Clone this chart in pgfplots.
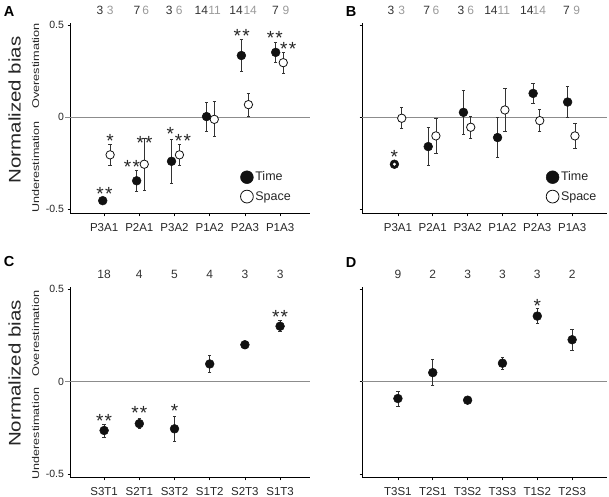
\documentclass[border=0pt]{standalone}
\usepackage{fontspec}
\setmainfont{Liberation Sans}
\usepackage{graphicx}
\usepackage{pgfplots}
\usepackage{pgfplotstable}
\pgfplotsset{compat=1.18}

% Panel A
\pgfplotstableread{
x y e
-0.04 -0.453 0.012
0.924 -0.345 0.058
1.915 -0.239 0.12
2.91 0.004 0.078
3.90 0.336 0.085
4.875 0.353 0.053
}\Atime
\pgfplotstableread{
x y e
0.17 -0.204 0.057
1.14 -0.255 0.14
2.14 -0.204 0.057
3.13 -0.011 0.095
4.10 0.069 0.062
5.09 0.297 0.058
}\Aspace
% Panel B
\pgfplotstableread{
x y e
-0.10 -0.255 0.0
0.87 -0.159 0.104
1.88 0.027 0.12
2.86 -0.110 0.107
3.88 0.130 0.055
4.87 0.083 0.083
}\Btime
\pgfplotstableread{
x y e
0.11 -0.005 0.057
1.09 -0.101 0.095
2.09 -0.054 0.058
3.07 0.040 0.118
4.07 -0.018 0.060
5.08 -0.101 0.068
}\Bspace
% Panel C
\pgfplotstableread{
x y e
0 -0.264 0.035
1 -0.227 0.027
2 -0.255 0.067
3 0.096 0.047
4 0.200 0.018
5 0.300 0.030
}\Cdata
% Panel D
\pgfplotstableread{
x y e
0 -0.091 0.040
1 0.049 0.071
2 -0.100 0.0
3 0.100 0.034
4 0.355 0.041
5 0.227 0.056
}\Ddata

\definecolor{dotc}{HTML}{111111}
\definecolor{cntdark}{HTML}{333333}
\definecolor{cntgray}{HTML}{9A9A9A}
\definecolor{zline}{HTML}{8C8C8C}

\pgfplotsset{
  basepanel/.style={
    scale only axis, clip=false,
    axis x line*=bottom, axis y line*=left,
    axis line style={line width=0.8bp, black},
    xtick={0,...,5}, ytick={-0.5,0,0.5},
    tick align=outside, major tick length=2.5bp,
    tick style={line width=0.6bp, black},
    xticklabel style={font=\fontsize{11.5bp}{12bp}\selectfont, text=black!85, yshift=-4bp},
    yticklabel style={font=\fontsize{10.5bp}{11bp}\selectfont, text=black!85},
    legend style={draw=none, fill=none, inner sep=0pt, row sep=5bp,
      font=\fontsize{12.5bp}{13bp}\selectfont, text=black!85},
    legend cell align=left,
    legend image code/.code={\draw[##1] plot coordinates {(0bp,0bp)};},
    legend image post style={mark size=6.4bp},
  },
  leftcol/.style={basepanel, width=240bp, xmin=-0.97, xmax=5.85, yticklabels={-0.5,0,0.5}},
  rightcol/.style={basepanel, width=245bp, xmin=-1.03, xmax=6.0, yticklabels={}},
  toprow/.style={height=190.4bp, ymin=-0.525, ymax=0.51},
  botrow/.style={height=191.3bp, ymin=-0.52, ymax=0.515},
  timeplot/.style={only marks, mark=*, mark size=4.4bp,
    mark options={fill=dotc, draw=dotc, line width=0.5bp},
    error bars/.cd, y dir=both, y explicit,
    error bar style={line width=0.75bp, black!80},
    error mark options={rotate=90, mark size=1.7bp, line width=0.75bp, black!80}},
  spaceplot/.style={only marks, mark=*, mark size=4.2bp,
    mark options={fill=white, draw=dotc, line width=0.8bp},
    error bars/.cd, y dir=both, y explicit,
    error bar style={line width=0.75bp, black!80},
    error mark options={rotate=90, mark size=1.7bp, line width=0.75bp, black!80}},
}

\newcommand{\st}[3]{\node[font=\fontsize{19bp}{19bp}\selectfont, anchor=base, inner sep=0pt, yshift=-10.9bp, text=black!85] at (axis cs:#1,#2) {#3};}
\newcommand{\ds}{*\kern1.2bp*}
\newcommand{\cnt}[4]{\node[font=\fontsize{12bp}{12bp}\selectfont, inner sep=0pt, text=#4] at (axis cs:#1,#2) {#3};}

\begin{document}
\begin{tikzpicture}
\useasboundingbox (0bp,0bp) rectangle (609bp,497bp);

% ---------- A ----------
\begin{axis}[leftcol, toprow, at={(70bp,283.1bp)}, anchor=south west,
  xticklabels={P3A1,P2A1,P3A2,P1A2,P2A3,P1A3},
  legend style={at={(axis cs:3.87,-0.285)}, anchor=north west}]
\addplot[zline, line width=1.2bp, forget plot] coordinates {(-1.1,0) (5.85,0)};
\addplot+[timeplot] table[x=x, y=y, y error=e] {\Atime};
\addlegendentry{Time}
\addplot+[spaceplot] table[x=x, y=y, y error=e] {\Aspace};
\addlegendentry{Space}
\st{0.01}{-0.394}{\ds}
\st{0.17}{-0.104}{*}
\st{0.79}{-0.246}{\ds}
\st{1.15}{-0.113}{\ds}
\st{1.88}{-0.068}{*}
\st{2.24}{-0.104}{\ds}
\st{3.91}{0.466}{\ds}
\st{4.85}{0.455}{\ds}
\st{5.23}{0.398}{\ds}
\cnt{-0.12}{0.579}{3}{cntdark}
\cnt{0.17}{0.579}{3}{cntgray}
\cnt{0.93}{0.579}{7}{cntdark}
\cnt{1.18}{0.579}{6}{cntgray}
\cnt{1.85}{0.579}{3}{cntdark}
\cnt{2.13}{0.579}{6}{cntgray}
\cnt{2.76}{0.579}{14}{cntdark}
\cnt{3.14}{0.579}{11}{cntgray}
\cnt{3.75}{0.579}{14}{cntdark}
\cnt{4.15}{0.579}{14}{cntgray}
\cnt{4.87}{0.579}{7}{cntdark}
\cnt{5.17}{0.579}{9}{cntgray}
\end{axis}

% ---------- B ----------
\begin{axis}[rightcol, toprow, at={(362bp,283.1bp)}, anchor=south west,
  xticklabels={P3A1,P2A1,P3A2,P1A2,P2A3,P1A3},
  legend style={at={(axis cs:4.25,-0.285)}, anchor=north west}]
\addplot[zline, line width=1.2bp, forget plot] coordinates {(-1.03,0) (6.0,0)};
\addplot+[timeplot] table[x=x, y=y, y error=e] {\Btime};
\addlegendentry{Time}
\addplot+[spaceplot] table[x=x, y=y, y error=e] {\Bspace};
\addlegendentry{Space}
\addplot[only marks, mark=*, mark size=1.3bp, mark options={fill=white, draw=white}, forget plot] coordinates {(-0.10,-0.255)};
\st{-0.10}{-0.191}{*}
\cnt{-0.20}{0.579}{3}{cntdark}
\cnt{0.11}{0.579}{3}{cntgray}
\cnt{0.83}{0.579}{7}{cntdark}
\cnt{1.09}{0.579}{6}{cntgray}
\cnt{1.81}{0.579}{3}{cntdark}
\cnt{2.09}{0.579}{6}{cntgray}
\cnt{2.67}{0.579}{14}{cntdark}
\cnt{3.04}{0.579}{11}{cntgray}
\cnt{3.70}{0.579}{14}{cntdark}
\cnt{4.06}{0.579}{14}{cntgray}
\cnt{4.84}{0.579}{7}{cntdark}
\cnt{5.13}{0.579}{9}{cntgray}
\end{axis}

% ---------- C ----------
\begin{axis}[leftcol, botrow, at={(70bp,19.2bp)}, anchor=south west,
  xticklabels={S3T1,S2T1,S3T2,S1T2,S2T3,S1T3}]
\addplot[zline, line width=1.2bp, forget plot] coordinates {(-1.1,0) (5.85,0)};
\addplot+[timeplot] table[x=x, y=y, y error=e] {\Cdata};
\st{0}{-0.191}{\ds}
\st{1}{-0.145}{\ds}
\st{2}{-0.136}{*}
\st{5}{0.376}{\ds}
\cnt{0}{0.583}{18}{cntdark}
\cnt{1}{0.583}{4}{cntdark}
\cnt{2}{0.583}{5}{cntdark}
\cnt{3}{0.583}{4}{cntdark}
\cnt{4}{0.583}{3}{cntdark}
\cnt{5}{0.583}{3}{cntdark}
\end{axis}

% ---------- D ----------
\begin{axis}[rightcol, botrow, at={(362bp,19.2bp)}, anchor=south west,
  xticklabels={T3S1,T2S1,T3S2,T3S3,T1S2,T2S3}]
\addplot[zline, line width=1.2bp, forget plot] coordinates {(-1.03,0) (6.0,0)};
\addplot+[timeplot] table[x=x, y=y, y error=e] {\Ddata};
\st{4}{0.436}{*}
\cnt{0}{0.583}{9}{cntdark}
\cnt{1}{0.583}{2}{cntdark}
\cnt{2}{0.583}{3}{cntdark}
\cnt{3}{0.583}{3}{cntdark}
\cnt{4}{0.583}{3}{cntdark}
\cnt{5}{0.583}{2}{cntdark}
\end{axis}

% ---------- labels ----------
\node[font=\fontsize{14.5bp}{14bp}\selectfont\bfseries, inner sep=0pt] at (9bp,485bp) {A};
\node[font=\fontsize{14.5bp}{14bp}\selectfont\bfseries, inner sep=0pt] at (351bp,485bp) {B};
\node[font=\fontsize{14.5bp}{14bp}\selectfont\bfseries, inner sep=0pt] at (9bp,235bp) {C};
\node[font=\fontsize{14.5bp}{14bp}\selectfont\bfseries, inner sep=0pt] at (351bp,234bp) {D};

\node[rotate=90, inner sep=0pt, font=\fontsize{16.8bp}{17bp}\selectfont, text=black!85] at (14.5bp,387bp) {\scalebox{1.22}[1]{Normalized bias}};
\node[rotate=90, inner sep=0pt, font=\fontsize{16.8bp}{17bp}\selectfont, text=black!85] at (14.5bp,123.5bp) {\scalebox{1.22}[1]{Normalized bias}};
\node[rotate=90, inner sep=0pt, font=\fontsize{9.8bp}{10bp}\selectfont, text=black!85] at (35.5bp,431bp) {\scalebox{1.3}[1]{Overestimation}};
\node[rotate=90, inner sep=0pt, font=\fontsize{9.8bp}{10bp}\selectfont, text=black!85] at (35.5bp,330bp) {\scalebox{1.28}[1]{Underestimation}};
\node[rotate=90, inner sep=0pt, font=\fontsize{9.8bp}{10bp}\selectfont, text=black!85] at (35.5bp,163.5bp) {\scalebox{1.3}[1]{Overestimation}};
\node[rotate=90, inner sep=0pt, font=\fontsize{9.8bp}{10bp}\selectfont, text=black!85] at (35.5bp,63.5bp) {\scalebox{1.28}[1]{Underestimation}};
\end{tikzpicture}
\end{document}
